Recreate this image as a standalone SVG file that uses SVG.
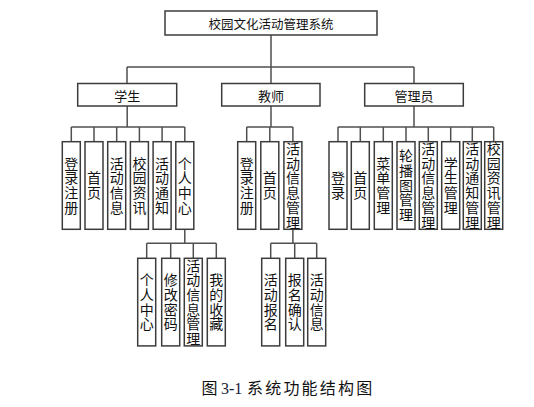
<svg xmlns="http://www.w3.org/2000/svg" width="534" height="407" viewBox="0 0 534 407">
<style>
.b{fill:#fff;stroke:#3c3c3c;stroke-width:1.5}
.c{fill:none;stroke:#505050;stroke-width:1.5}
text{font-family:"Noto Sans CJK SC","Noto Sans",sans-serif;fill:#111}
.h{font-size:13px;text-anchor:middle;dominant-baseline:central}
.v{font-size:14px;text-anchor:middle;writing-mode:vertical-rl;letter-spacing:0.7px}
</style>
<rect width="534" height="407" fill="#fff"/>
<g id="connectors">
<path class="c" d="M271 35V67M127 67H414M127 67V83.5M271 67V83.5M414 67V83.5"/>
<path class="c" d="M127.2 106V127M71.3 127H184.8M71.3 127V141.7M94 127V141.7M116.7 127V141.7M139.4 127V141.7M162.1 127V141.7M184.8 127V141.7"/>
<path class="c" d="M271 106V127M246.7 127H292.9M246.7 127V141.7M269.8 127V141.7M292.9 127V141.7"/>
<path class="c" d="M414 106V127M338 127H493.7M338 127V141.7M360.3 127V141.7M383.3 127V141.7M406 127V141.7M428.3 127V141.7M450.7 127V141.7M472.3 127V141.7M493.7 127V141.7"/>
<path class="c" d="M184.8 229.3V243.3M146.7 243.3H216.3M146.7 243.3V258.3M170.7 243.3V258.3M193.3 243.3V258.3M216.3 243.3V258.3"/>
<path class="c" d="M292.9 229.3V243.3M270.7 243.3H316.7M270.7 243.3V258.3M294.7 243.3V258.3M316.7 243.3V258.3"/>
</g>
<g id="root"><rect class="b" x="165" y="11" width="212" height="24"/><text class="h" x="271" y="23" style="font-size:12.5px">校园文化活动管理系统</text></g>
<g id="student"><rect class="b" x="77.7" y="83.5" width="99" height="22.5"/><text class="h" x="127.2" y="95">学生</text></g>
<g id="teacher"><rect class="b" x="221.7" y="83.5" width="98.3" height="22.5"/><text class="h" x="271" y="95">教师</text></g>
<g id="admin"><rect class="b" x="364.7" y="83.5" width="98.6" height="22.5"/><text class="h" x="414" y="95">管理员</text></g>

<g id="s1"><rect class="b" x="62.3" y="141.7" width="18" height="87.6"/><text class="v" x="71.3" y="185.8">登录注册</text></g>
<g id="s2"><rect class="b" x="85" y="141.7" width="18" height="87.6"/><text class="v" x="94" y="185.8">首页</text></g>
<g id="s3"><rect class="b" x="107.7" y="141.7" width="18" height="87.6"/><text class="v" x="116.7" y="185.8">活动信息</text></g>
<g id="s4"><rect class="b" x="130.4" y="141.7" width="18" height="87.6"/><text class="v" x="139.4" y="185.8">校园资讯</text></g>
<g id="s5"><rect class="b" x="153.1" y="141.7" width="18" height="87.6"/><text class="v" x="162.1" y="185.8">活动通知</text></g>
<g id="s6"><rect class="b" x="175.8" y="141.7" width="18" height="87.6"/><text class="v" x="184.8" y="185.8">个人中心</text></g>

<g id="t1"><rect class="b" x="237.7" y="141.7" width="18" height="87.6"/><text class="v" x="246.7" y="185.8">登录注册</text></g>
<g id="t2"><rect class="b" x="260.8" y="141.7" width="18" height="87.6"/><text class="v" x="269.8" y="185.8">首页</text></g>
<g id="t3"><rect class="b" x="283.9" y="141.7" width="18" height="87.6"/><text class="v" x="292.9" y="185.8">活动信息管理</text></g>

<g id="a1"><rect class="b" x="329" y="141.7" width="18" height="87.6"/><text class="v" x="338" y="185.8">登录</text></g>
<g id="a2"><rect class="b" x="351.3" y="141.7" width="18" height="87.6"/><text class="v" x="360.3" y="185.8">首页</text></g>
<g id="a3"><rect class="b" x="374.3" y="141.7" width="18" height="87.6"/><text class="v" x="383.3" y="185.8">菜单管理</text></g>
<g id="a4"><rect class="b" x="397" y="141.7" width="18" height="87.6"/><text class="v" x="406" y="185.8">轮播图管理</text></g>
<g id="a5"><rect class="b" x="419.3" y="141.7" width="18" height="87.6"/><text class="v" x="428.3" y="185.8">活动信息管理</text></g>
<g id="a6"><rect class="b" x="441.7" y="141.7" width="18" height="87.6"/><text class="v" x="450.7" y="185.8">学生管理</text></g>
<g id="a7"><rect class="b" x="463.3" y="141.7" width="18" height="87.6"/><text class="v" x="472.3" y="185.8">活动通知管理</text></g>
<g id="a8"><rect class="b" x="484.7" y="141.7" width="18" height="87.6"/><text class="v" x="493.7" y="185.8">校园资讯管理</text></g>

<g id="p1"><rect class="b" x="137.7" y="258.3" width="18" height="87.6"/><text class="v" x="146.7" y="302.3">个人中心</text></g>
<g id="p2"><rect class="b" x="161.7" y="258.3" width="18" height="87.6"/><text class="v" x="170.7" y="302.3">修改密码</text></g>
<g id="p3"><rect class="b" x="184.3" y="258.3" width="18" height="87.6"/><text class="v" x="193.3" y="302.3">活动信息管理</text></g>
<g id="p4"><rect class="b" x="207.3" y="258.3" width="18" height="87.6"/><text class="v" x="216.3" y="302.3">我的收藏</text></g>

<g id="q1"><rect class="b" x="261.7" y="258.3" width="18" height="87.6"/><text class="v" x="270.7" y="302.3">活动报名</text></g>
<g id="q2"><rect class="b" x="285.7" y="258.3" width="18" height="87.6"/><text class="v" x="294.7" y="302.3">报名确认</text></g>
<g id="q3"><rect class="b" x="307.7" y="258.3" width="18" height="87.6"/><text class="v" x="316.7" y="302.3">活动信息</text></g>

<g id="caption"><text y="394" style="font-size:16px"><tspan x="201.5">图</tspan><tspan x="221" style="font-family:'Liberation Serif',serif;fill:#1a1a3a">3-1</tspan><tspan x="247" letter-spacing="2.2">系统功能结构图</tspan></text></g>
</svg>
